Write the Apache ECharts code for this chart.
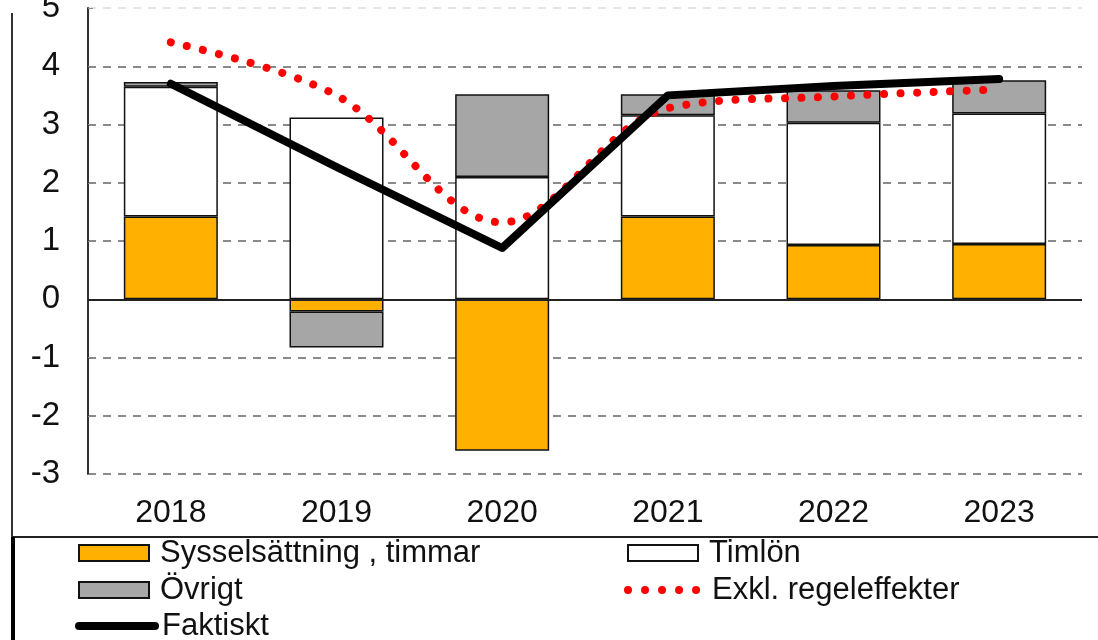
<!DOCTYPE html>
<html>
<head>
<meta charset="utf-8">
<script src="https://cdn.jsdelivr.net/npm/echarts@6/dist/echarts.min.js"></script>
<style>
html,body{margin:0;padding:0;background:#fff;}
#chart{width:1098px;height:640px;}
</style>
</head>
<body>
<div id="chart"></div>
<script>
var categories = ['2018', '2019', '2020', '2021', '2022', '2023'];
var sysselsattning = [1.42, -0.21, -2.6, 1.42, 0.93, 0.95];
var timlon = [2.23, 3.12, 2.1, 1.74, 2.1, 2.24];
var ovrigt = [0.08, -0.62, 1.42, 0.36, 0.56, 0.57];
var exklRegeleffekter = [4.41, 3.5, 1.32, 3.28, 3.48, 3.6];
var faktiskt = [3.7, 2.27, 0.88, 3.5, 3.66, 3.78];
var yTicks = { min: -3, max: 5, interval: 1 };
var seriesNames = ['Sysselsättning , timmar', 'Timlön', 'Övrigt', 'Exkl. regeleffekter', 'Faktiskt'];

var FONT = '"Liberation Sans", Arial, sans-serif';
var chart = echarts.init(document.getElementById('chart'), null, { renderer: 'canvas' });

function legendFor(name, left, top, w, h, extra, textPad) {
  var l = {
    data: [name],
    left: left,
    top: top,
    orient: 'horizontal',
    padding: 0,
    itemWidth: w,
    itemHeight: h,
    selectedMode: false,
    textStyle: { fontFamily: FONT, fontSize: 31, color: '#111', padding: [0, 0, 0, textPad == null ? 6 : textPad], lineHeight: 32 }
  };
  if (extra) for (var k in extra) l[k] = extra[k];
  return l;
}

var option = {
  animation: false,
  backgroundColor: '#fff',
  grid: { left: 88, right: 16, top: 8, bottom: 166, containLabel: false, outerBoundsMode: 'none' },
  xAxis: {
    type: 'category',
    data: categories,
    axisLine: { show: false, onZero: false },
    axisTick: { show: false },
    splitLine: { show: false },
    axisLabel: { fontFamily: FONT, fontSize: 32, color: '#111', margin: 23 }
  },
  yAxis: {
    type: 'value',
    min: yTicks.min,
    max: yTicks.max,
    interval: yTicks.interval,
    axisLine: { show: true, lineStyle: { color: '#333', width: 2 } },
    axisTick: { show: true, inside: true, length: 5, lineStyle: { color: '#888', width: 1 } },
    axisLabel: { fontFamily: FONT, fontSize: 33, color: '#111', margin: 28 },
    splitLine: {
      show: true,
      lineStyle: {
        color: ['#8a8a8a', '#8a8a8a', '#8a8a8a', '#8a8a8a', '#8a8a8a', '#8a8a8a', '#8a8a8a', '#8a8a8a', '#e4e4e4'],
        width: 2,
        type: [8, 7]
      }
    }
  },
  legend: [
    legendFor(seriesNames[0], 78, 537, 70, 16, { icon: 'rect' }),
    legendFor(seriesNames[2], 78, 574, 70, 16, { icon: 'rect' }),
    legendFor(seriesNames[4], 75, 610, 76, 16, {
      itemStyle: { opacity: 0 },
      lineStyle: { color: '#000', width: 8, cap: 'round', type: 'solid' }
    }, 2),
    legendFor(seriesNames[1], 627, 537, 70, 16, { icon: 'rect' }),
    legendFor(seriesNames[3], 624, 574, 76, 16, {
      itemStyle: { opacity: 0 },
      lineStyle: { color: '#FF0000', width: 8, cap: 'round', type: [0.01, 17] }
    }, 3)
  ],
  graphic: [
    { type: 'line', shape: { x1: 12, y1: 13, x2: 12, y2: 537 }, style: { stroke: '#333', lineWidth: 2 }, silent: true },
    { type: 'line', shape: { x1: 12, y1: 537, x2: 1098, y2: 537 }, style: { stroke: '#222', lineWidth: 2 }, silent: true },
    { type: 'line', shape: { x1: 13, y1: 537, x2: 13, y2: 640 }, style: { stroke: '#000', lineWidth: 4 }, silent: true }
  ],
  series: [
    {
      name: seriesNames[0], type: 'bar', stack: 'total', data: sysselsattning, barWidth: 94,
      itemStyle: { color: '#FFB000', borderColor: '#111', borderWidth: 1.5 },
      markLine: {
        silent: true, symbol: 'none', label: { show: false },
        lineStyle: { color: '#222', width: 2, type: 'solid' },
        data: [{ yAxis: 0 }]
      }
    },
    {
      name: seriesNames[1], type: 'bar', stack: 'total', data: timlon, barWidth: 94,
      itemStyle: { color: '#ffffff', borderColor: '#111', borderWidth: 1.5 }
    },
    {
      name: seriesNames[2], type: 'bar', stack: 'total', data: ovrigt, barWidth: 94,
      itemStyle: { color: '#A6A6A6', borderColor: '#111', borderWidth: 1.5 }
    },
    {
      name: seriesNames[3], type: 'line', data: exklRegeleffekter, smooth: 0.35,
      symbol: 'none', showSymbol: false,
      itemStyle: { color: '#FF0000' },
      lineStyle: { color: '#FF0000', width: 8, type: [0.01, 16.5], cap: 'round' },
      z: 3
    },
    {
      name: seriesNames[4], type: 'line', data: faktiskt, smooth: false,
      symbol: 'none', showSymbol: false,
      itemStyle: { color: '#000' },
      lineStyle: { color: '#000', width: 8, cap: 'round', join: 'round' },
      z: 4
    }
  ]
};
chart.setOption(option);
</script>
</body>
</html>
